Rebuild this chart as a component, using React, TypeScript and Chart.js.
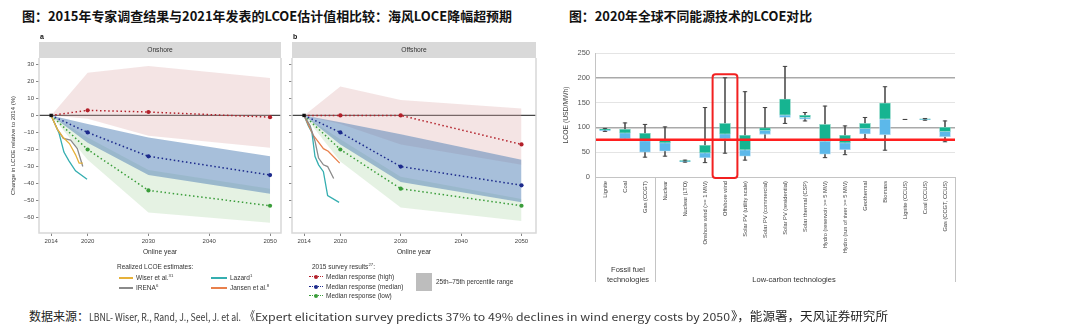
import React, { useEffect, useLayoutEffect, useRef } from 'react';
import { Chart, registerables } from 'chart.js';
Chart.register(...registerables);

const SANS = "'Liberation Sans', Arial, Helvetica, sans-serif";
const CJK = "'Noto Sans CJK SC', 'Noto Sans', sans-serif";

// ---------------- Left figure: 2015 survey vs realized LCOE ----------------
const SURVEY_YEARS = [2014, 2020, 2030, 2050];
const X_TICKS = [2014, 2020, 2030, 2040, 2050];
const Y_TICKS = [30, 20, 10, 0, -10, -20, -30, -40, -50, -60];
const X_MIN = 2012;
const Y_MIN = -69;
const Y_MAX = 33.7;

// Onshore (panel a)
const ON_HIGH = [0, 3, 2, -1];
const ON_MED = [0, -10, -24, -35];
const ON_LOW = [0, -20, -44, -53];
const ON_HIGH_P75 = [0, 25, 29, 22];
const ON_HIGH_P25 = [0, -2, -12, -19];
const ON_MED_P75 = [0, -5, -13, -24];
const ON_MED_P25 = [0, -16, -35, -46];
const ON_LOW_P75 = [0, -13, -32, -43];
const ON_LOW_P25 = [0, -26, -57, -63];

// Offshore (panel b)
const OFF_HIGH = [0, 0, 0, -17];
const OFF_MED = [0, -10, -30, -41];
const OFF_LOW = [0, -20, -43, -53];
const OFF_HIGH_P75 = [0, 17, 9, 4];
const OFF_HIGH_P25 = [0, -5, -17, -29];
const OFF_MED_P75 = [0, -4, -11, -26];
const OFF_MED_P25 = [0, -17, -39, -51];
const OFF_LOW_P75 = [0, -14, -36, -49];
const OFF_LOW_P25 = [0, -27, -54, -62];

// Realized LCOE estimates
const WISER_ON_YEARS = [2014, 2015, 2016, 2017, 2018, 2018.6, 2019.2];
const WISER_ON = [0, -8, -13, -16.5, -23, -28, -28];
const IRENA_ON_YEARS = [2014, 2015, 2016, 2017.2, 2018.3, 2019.2];
const IRENA_ON = [0, -8, -13.5, -14.5, -19.5, -30];
const LAZARD_ON_YEARS = [2014, 2015.3, 2016.1, 2016.9, 2018, 2019.9];
const LAZARD_ON = [0, -10.5, -21.5, -26.5, -32.5, -37.5];
const LAZARD_OFF_YEARS = [2014, 2014.7, 2015.3, 2015.8, 2016.4, 2017.2, 2017.9, 2019.8];
const LAZARD_OFF = [0, -6, -10, -24, -29, -33, -47, -51];
const IRENA_OFF_YEARS = [2014, 2015, 2015.8, 2016.4, 2017.2, 2017.9, 2018.9];
const IRENA_OFF = [0, -6, -15, -25, -29, -30, -37];
const JANSEN_OFF_YEARS = [2014, 2015.5, 2017.2, 2018, 2019.9];
const JANSEN_OFF = [0, -11.5, -19.5, -21, -28];

const C_HIGH = '#b3202a';
const C_MED = '#1c2a8c';
const C_LOW = '#3a9d3a';
const C_WISER = '#e6b13a';
const C_IRENA = '#8a8a8a';
const C_LAZARD = '#35aeb0';
const C_JANSEN = '#e8804c';
const PINK_BAND = 'rgba(222, 170, 172, 0.32)';
const BLUE_BAND = 'rgba(80, 128, 182, 0.5)';
const GREEN_BAND = 'rgba(150, 205, 145, 0.25)';

// ---------------- Right figure: 2020 LCOE by technology ----------------
const TECHS = [
  'Lignite', 'Coal', 'Gas (CCGT)', 'Nuclear', 'Nuclear (LTO)', 'Onshore wind (>= 1 MW)',
  'Offshore wind', 'Solar PV (utility scale)', 'Solar PV (commercial)', 'Solar PV (residential)',
  'Solar thermal (CSP)', 'Hydro (reservoir >= 5 MW)', 'Hydro (run of river >= 5 MW)', 'Geothermal',
  'Biomass', 'Lignite (CCUS)', 'Coal (CCUS)', 'Gas (CCGT, CCUS)',
];
const LCOE_MIN = [92, 74, 40, 42, 30, 29, 48, 34, 74, 108, 113, 39, 45, 77, 54, 116, 114.5, 71];
const LCOE_Q1 = [93, 77, 50, 52, 31, 39, 77, 42, 86, 120, 116.5, 46, 55, 87, 85, null, 115.5, 81];
const LCOE_MED = [95.5, 89, 73, 69, 32, 49, 87, 55, 94, 125, 120, 72, 69, 98, 117, null, 116.5, 92];
const LCOE_Q3 = [96.5, 96, 88, 75, 33, 64, 108, 84, 99, 157, 124.5, 106, 84, 108, 149, null, 117.5, 100];
const LCOE_MAX = [98, 109, 106, 101, 34, 140, 200, 172, 140, 223, 130, 143, 103, 120, 182, 116, 118, 113];
const LCOE_TICKS_STEP = 50;
const REF_LCOE = 75;
const HIGHLIGHT_TECH = 'Offshore wind';
const HIGHLIGHT_TOP = 207;
const FOSSIL_COUNT = 3;
const BOX_GREEN = '#16b491';
const BOX_BLUE = '#5cb8ea';

// ---------------- helpers ----------------
const pts = (xs: number[], ys: number[]) => xs.map((x, i) => ({ x, y: ys[i] }));

function band(upper: number[], lower: number[], color: string, order: number) {
  return [
    { type: 'line', data: pts(SURVEY_YEARS, upper), borderColor: 'rgba(0,0,0,0)', borderWidth: 0, pointRadius: 0, fill: '+1', backgroundColor: color, order, tension: 0 },
    { type: 'line', data: pts(SURVEY_YEARS, lower), borderColor: 'rgba(0,0,0,0)', borderWidth: 0, pointRadius: 0, fill: false, order, tension: 0 },
  ];
}

function median(values: number[], color: string) {
  return {
    type: 'line', data: pts(SURVEY_YEARS, values), borderColor: color, backgroundColor: color,
    borderWidth: 1.5, borderDash: [1.5, 2.6], pointRadius: (c: any) => (c.dataIndex === 0 ? 0 : 2.1),
    pointBorderWidth: 0, fill: false, order: 1,
  };
}

function realized(years: number[], values: number[], color: string) {
  return { type: 'line', data: pts(years, values), borderColor: color, borderWidth: 1.3, pointRadius: 0, fill: false, order: 0 };
}

const origin = {
  type: 'line', data: [{ x: SURVEY_YEARS[0], y: 0 }], pointStyle: 'rect', pointRadius: 2.4,
  backgroundColor: '#111', borderColor: '#111', pointBorderWidth: 0, showLine: false, order: -1,
};

const PANEL_A = [
  ...band(ON_HIGH_P75, ON_HIGH_P25, PINK_BAND, 9),
  ...band(ON_LOW_P75, ON_LOW_P25, GREEN_BAND, 8),
  ...band(ON_MED_P75, ON_MED_P25, BLUE_BAND, 7),
  median(ON_HIGH, C_HIGH), median(ON_MED, C_MED), median(ON_LOW, C_LOW),
  realized(WISER_ON_YEARS, WISER_ON, C_WISER),
  realized(IRENA_ON_YEARS, IRENA_ON, C_IRENA),
  realized(LAZARD_ON_YEARS, LAZARD_ON, C_LAZARD),
  origin,
];
const PANEL_B = [
  ...band(OFF_HIGH_P75, OFF_HIGH_P25, PINK_BAND, 9),
  ...band(OFF_LOW_P75, OFF_LOW_P25, GREEN_BAND, 8),
  ...band(OFF_MED_P75, OFF_MED_P25, BLUE_BAND, 7),
  median(OFF_HIGH, C_HIGH), median(OFF_MED, C_MED), median(OFF_LOW, C_LOW),
  realized(IRENA_OFF_YEARS, IRENA_OFF, C_IRENA),
  realized(JANSEN_OFF_YEARS, JANSEN_OFF, C_JANSEN),
  realized(LAZARD_OFF_YEARS, LAZARD_OFF, C_LAZARD),
  origin,
];

function panelDeco(header: string, letter: string) {
  return {
    id: 'panelDeco',
    beforeDatasetsDraw(chart: any) {
      const { ctx, chartArea: a, scales } = chart;
      const y0 = scales.y.getPixelForValue(0);
      ctx.save();
      ctx.strokeStyle = '#474747';
      ctx.lineWidth = 1.3;
      ctx.beginPath();
      ctx.moveTo(a.left, y0);
      ctx.lineTo(a.right, y0);
      ctx.stroke();
      ctx.restore();
    },
    afterDraw(chart: any) {
      const { ctx, chartArea: a } = chart;
      ctx.save();
      ctx.fillStyle = '#d9d9d9';
      ctx.fillRect(a.left, a.top - 16, a.right - a.left, 16);
      ctx.fillStyle = '#333';
      ctx.font = `6.7px ${SANS}`;
      ctx.textAlign = 'center';
      ctx.textBaseline = 'middle';
      ctx.fillText(header, (a.left + a.right) / 2, a.top - 8);
      ctx.font = `bold 7px ${SANS}`;
      ctx.textAlign = 'left';
      ctx.fillStyle = '#111';
      ctx.fillText(letter, a.left + 1, a.top - 21);
      ctx.strokeStyle = '#d8d8d8';
      ctx.lineWidth = 1.5;
      ctx.beginPath();
      ctx.moveTo(a.left, a.top);
      ctx.lineTo(a.left, a.bottom);
      ctx.lineTo(a.right, a.bottom);
      ctx.lineTo(a.right, a.top);
      ctx.stroke();
      ctx.restore();
    },
  };
}

function LinePanel(props: { left: number; top: number; width: number; height: number; axisW: number; padRight: number; xmax: number; showY: boolean; header: string; letter: string; datasets: any[] }) {
  const ref = useRef<HTMLCanvasElement>(null);
  useEffect(() => {
    const p = props;
    const chart = new Chart(ref.current as HTMLCanvasElement, {
      type: 'line',
      data: { datasets: p.datasets as any },
      options: {
        responsive: false,
        animation: false,
        layout: { padding: { top: 28, right: p.padRight, left: 0, bottom: 0 } },
        plugins: { legend: { display: false }, tooltip: { enabled: false } },
        scales: {
          x: {
            type: 'linear', min: X_MIN, max: p.xmax,
            afterBuildTicks: (s: any) => { s.ticks = X_TICKS.map((v) => ({ value: v })); },
            ticks: { font: { size: 6, family: SANS }, color: '#444', padding: 2, callback: (v: any) => String(v) },
            grid: { drawOnChartArea: false, drawTicks: true, tickLength: 3, color: '#888' },
            border: { display: false },
            title: { display: true, text: 'Online year', font: { size: 6.7, family: SANS }, color: '#333', padding: { top: 0, bottom: 9.3 } },
            afterFit: (s: any) => { s.height = 32; },
          },
          y: {
            type: 'linear', min: Y_MIN, max: Y_MAX,
            afterBuildTicks: (s: any) => { s.ticks = Y_TICKS.map((v) => ({ value: v })); },
            ticks: {
              font: { size: 6, family: SANS }, color: '#444', padding: 2,
              callback: (v: any) => (p.showY ? (v < 0 ? '\u2212' + Math.abs(v) : String(v)) : ''),
            },
            grid: { drawOnChartArea: false, drawTicks: true, tickLength: 3, color: '#888' },
            border: { display: false },
            title: { display: p.showY, text: 'Change in LCOE relative to 2014 (%)', font: { size: 6, family: SANS }, color: '#333', padding: { top: 9.4, bottom: 0 } },
            afterFit: (s: any) => { s.width = p.axisW; },
          },
        },
      } as any,
      plugins: [panelDeco(p.header, p.letter)],
    });
    return () => chart.destroy();
  }, []);
  return <canvas ref={ref} width={props.width} height={props.height} style={{ position: 'absolute', left: props.left, top: props.top, width: props.width, height: props.height }} />;
}

const boxDeco = {
  id: 'boxDeco',
  afterDatasetsDraw(chart: any) {
    const { ctx, chartArea: a, scales } = chart;
    const x = scales.x;
    const y = scales.y;
    ctx.save();
    // reference line
    const yr = y.getPixelForValue(REF_LCOE);
    ctx.strokeStyle = '#ff1f1f';
    ctx.lineWidth = 2.6;
    ctx.beginPath();
    ctx.moveTo(a.left + 1, yr);
    ctx.lineTo(a.right, yr);
    ctx.stroke();
    // highlight box
    const idx = TECHS.indexOf(HIGHLIGHT_TECH);
    const cx = x.getPixelForValue(idx);
    const half = (x.getPixelForValue(1) - x.getPixelForValue(0)) * 0.62;
    const top = y.getPixelForValue(HIGHLIGHT_TOP);
    const bot = y.getPixelForValue(0) + 1;
    ctx.lineWidth = 2;
    ctx.strokeStyle = '#f22020';
    ctx.beginPath();
    (ctx as any).roundRect(cx - half, top, half * 2, bot - top, 3);
    ctx.stroke();
    ctx.restore();
  },
  afterDraw(chart: any) {
    const { ctx, chartArea: a, scales } = chart;
    const x = scales.x;
    ctx.save();
    ctx.strokeStyle = '#c4c4c4';
    ctx.lineWidth = 1;
    const sep = (x.getPixelForValue(FOSSIL_COUNT - 1) + x.getPixelForValue(FOSSIL_COUNT)) / 2;
    [a.left, sep, a.right].forEach((px: number) => {
      const xx = Math.round(px) + 0.5;
      ctx.beginPath();
      ctx.moveTo(xx, a.bottom);
      ctx.lineTo(xx, a.bottom + 105);
      ctx.stroke();
    });
    ctx.restore();
  },
};

function BoxChart() {
  const ref = useRef<HTMLCanvasElement>(null);
  useEffect(() => {
    const chart = new Chart(ref.current as HTMLCanvasElement, {
      type: 'bar',
      data: {
        labels: TECHS,
        datasets: [
          { type: 'bar', label: 'range', data: TECHS.map((_, i) => [LCOE_MIN[i], LCOE_MAX[i]]), backgroundColor: '#555', barThickness: 1, grouped: false, order: 4 },
          { type: 'bar', label: 'q1-median', data: TECHS.map((_, i) => (LCOE_Q1[i] == null ? null : [LCOE_Q1[i], LCOE_MED[i]])), backgroundColor: BOX_BLUE, borderColor: 'rgba(170,215,240,0.9)', borderWidth: 0.8, borderSkipped: false, barThickness: 11, grouped: false, order: 3 },
          { type: 'bar', label: 'median-q3', data: TECHS.map((_, i) => (LCOE_Q3[i] == null ? null : [LCOE_MED[i], LCOE_Q3[i]])), backgroundColor: BOX_GREEN, borderColor: 'rgba(120,210,190,0.9)', borderWidth: 0.8, borderSkipped: false, barThickness: 11, grouped: false, order: 2 },
          { type: 'line', label: 'max', data: LCOE_MAX, showLine: false, pointStyle: 'line', pointRadius: 2.2, pointBorderColor: '#444', pointBorderWidth: 1, order: 1 },
          { type: 'line', label: 'min', data: LCOE_MIN, showLine: false, pointStyle: 'line', pointRadius: 2.2, pointBorderColor: '#444', pointBorderWidth: 1, order: 1 },
        ] as any,
      },
      options: {
        responsive: false,
        animation: false,
        layout: { padding: { top: 23, right: 15, left: 0, bottom: 0 } },
        plugins: { legend: { display: false }, tooltip: { enabled: false } },
        scales: {
          x: {
            type: 'category', offset: true,
            grid: { display: true, drawOnChartArea: false, drawTicks: false },
            border: { color: '#c4c4c4', width: 1 },
            ticks: { autoSkip: false, maxRotation: 90, minRotation: 90, font: { size: 5.7, family: SANS }, color: '#444', padding: 4 },
            afterFit: (s: any) => { s.height = 113; },
          },
          y: {
            min: 0, max: 250,
            ticks: { stepSize: LCOE_TICKS_STEP, font: { size: 7.5, family: SANS }, color: '#555', padding: 5 },
            grid: {
              drawTicks: false,
              color: (c: any) => (c.tick && (c.tick.value === 100 || c.tick.value === 200) ? '#a9a9a9' : '#e4e4e4'),
              lineWidth: (c: any) => (c.tick && (c.tick.value === 100 || c.tick.value === 200) ? 1.5 : 1),
            },
            border: { color: '#c4c4c4' },
            title: { display: true, text: 'LCOE (USD/MWh)', font: { size: 6.8, family: SANS }, color: '#444', padding: { top: 21.9, bottom: 0 } },
            afterFit: (s: any) => { s.width = 55; },
          },
        },
      } as any,
      plugins: [boxDeco],
    });
    return () => chart.destroy();
  }, []);
  return <canvas ref={ref} width={430} height={260} style={{ position: 'absolute', left: 540, top: 30, width: 430, height: 260 }} />;
}

function Fit(props: { x: number; y: number; w: number; font: string; color?: string; children: any }) {
  const ref = useRef<HTMLSpanElement>(null);
  useLayoutEffect(() => {
    const el = ref.current;
    if (!el) return;
    el.style.transform = 'translateY(-50%)';
    const nat = el.getBoundingClientRect().width;
    if (nat > 0) el.style.transform = `translateY(-50%) scaleX(${props.w / nat})`;
  });
  return (
    <span ref={ref} style={{ position: 'absolute', left: props.x, top: props.y, font: props.font, color: props.color || '#111', whiteSpace: 'nowrap', lineHeight: 1, transformOrigin: '0 50%' }}>
      {props.children}
    </span>
  );
}

function T(props: { x: number; y: number; size?: number; color?: string; align?: 'left' | 'center'; children: any }) {
  const size = props.size || 6.5;
  return (
    <div style={{ position: 'absolute', left: props.x, top: props.y, transform: props.align === 'center' ? 'translate(-50%, -50%)' : 'translateY(-50%)', fontSize: size, fontFamily: SANS, color: props.color || '#333', whiteSpace: 'nowrap', lineHeight: 1 }}>
      {props.children}
    </div>
  );
}

const Sup = ({ children }: { children: any }) => (
  <span style={{ fontSize: 4.3, position: 'relative', top: -2.6 }}>{children}</span>
);

const Swatch = ({ x, y, w, color }: { x: number; y: number; w: number; color: string }) => (
  <div style={{ position: 'absolute', left: Math.round(x), top: Math.round(y) - 1, width: w, height: 2, background: color }} />
);

const DotSwatch = ({ x, y, color }: { x: number; y: number; color: string }) => (
  <>
    <div style={{ position: 'absolute', left: Math.round(x), top: Math.round(y) - 1, width: 14, height: 0, borderTop: `1.5px dotted ${color}` }} />
    <div style={{ position: 'absolute', left: Math.round(x) + 5, top: Math.round(y) - 2, width: 4, height: 4, borderRadius: 2, background: color }} />
  </>
);

export default function App() {
  useEffect(() => {
    document.body.style.margin = '0';
  }, []);
  return (
    <div style={{ position: 'fixed', left: 0, top: 0, width: 1080, height: 329, background: '#fff', overflow: 'hidden' }}>
      <Fit x={22} y={15} w={490} font={`bold 13px ${CJK}`}>图：2015年专家调查结果与2021年发表的LCOE估计值相比较：海风LOCE降幅超预期</Fit>
      <Fit x={569} y={15} w={243} font={`bold 13px ${CJK}`}>图：2020年全球不同能源技术的LCOE对比</Fit>

      <LinePanel left={0} top={30} width={285} height={235} axisW={39} padRight={4} xmax={2051.8} showY header="Onshore" letter="a" datasets={PANEL_A} />
      <LinePanel left={282} top={30} width={258} height={235} axisW={10} padRight={2} xmax={2052.4} showY={false} header="Offshore" letter="b" datasets={PANEL_B} />

      {/* left legend */}
      <T x={117} y={266.5}>Realized LCOE estimates:</T>
      <Swatch x={119} y={277.6} w={14} color={C_WISER} />
      <T x={136} y={277.6}>Wiser et al.<Sup>31</Sup></T>
      <Swatch x={119} y={288} w={14} color={C_IRENA} />
      <T x={136} y={288}>IRENA<Sup>6</Sup></T>
      <Swatch x={211} y={277.6} w={16} color={C_LAZARD} />
      <T x={230} y={277.6}>Lazard<Sup>1</Sup></T>
      <Swatch x={211} y={288} w={16} color={C_JANSEN} />
      <T x={230} y={288}>Jansen et al.<Sup>8</Sup></T>

      <T x={312} y={266.5}>2015 survey results<Sup>27</Sup>:</T>
      <DotSwatch x={308.6} y={277} color={C_HIGH} />
      <T x={326} y={277}>Median response (high)</T>
      <DotSwatch x={308.6} y={286.5} color={C_MED} />
      <T x={326} y={286.5}>Median response (median)</T>
      <DotSwatch x={308.6} y={296} color={C_LOW} />
      <T x={326} y={296}>Median response (low)</T>
      <div style={{ position: 'absolute', left: 415.5, top: 272.8, width: 16.2, height: 18.6, background: '#bdbdbd' }} />
      <T x={436} y={282}>25th–75th percentile range</T>

      <BoxChart />
      <T x={628} y={270} size={7.5} align="center">Fossil fuel</T>
      <T x={628} y={279.5} size={7.5} align="center">technologies</T>
      <T x={794} y={279.5} size={7.5} align="center">Low-carbon technologies</T>

      {/* footer */}
      <Fit x={29} y={316} w={60} font={`12px ${CJK}`} color="#222">数据来源：</Fit>
      <Fit x={89} y={316.5} w={152} font={`10.5px ${CJK}`} color="#3a3a3a">LBNL- Wiser, R., Rand, J., Seel, J. et al.</Fit>
      <Fit x={245} y={316} w={10} font={`12px ${CJK}`} color="#333">《</Fit>
      <Fit x={255} y={316.5} w={475} font={`10.5px ${CJK}`} color="#3a3a3a">Expert elicitation survey predicts 37% to 49% declines in wind energy costs by 2050</Fit>
      <Fit x={731} y={316} w={157} font={`12px ${CJK}`} color="#222">》，能源署，天风证券研究所</Fit>
    </div>
  );
}
